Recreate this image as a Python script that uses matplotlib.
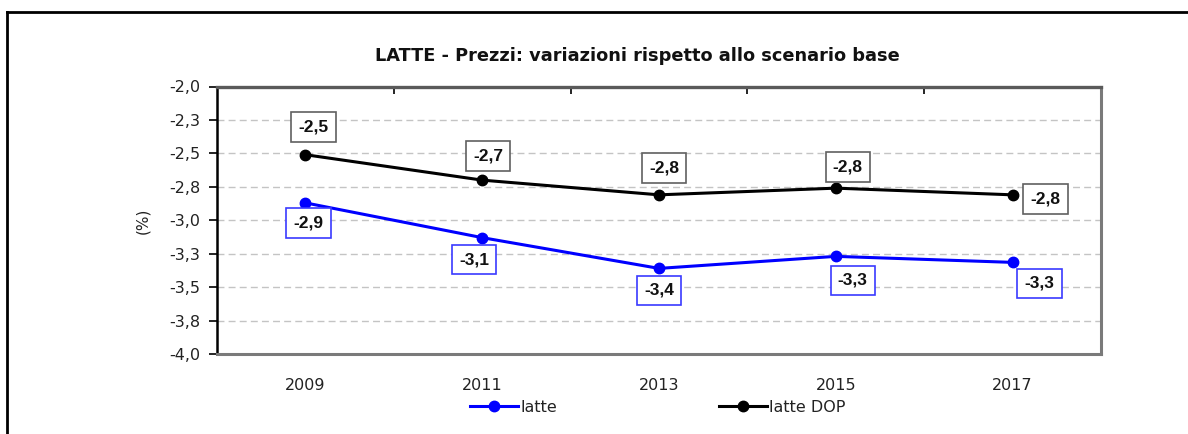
import matplotlib
matplotlib.use("Agg")
import matplotlib.pyplot as plt
import numpy as np
from matplotlib.lines import Line2D
from matplotlib.ticker import FixedLocator, FuncFormatter

plt.rcParams["font.family"] = ["DejaVu Sans"]

# data
years = ["2009", "2011", "2013", "2015", "2017"]
latte = [-2.87, -3.13, -3.36, -3.27, -3.315]
latte_dop = [-2.51, -2.70, -2.81, -2.76, -2.81]
y_ticks = [-4.0, -3.75, -3.5, -3.25, -3.0, -2.75, -2.5, -2.25, -2.0]

# label offsets in pixels (layout only)
dop_offsets = [(8, 28), (6, 24), (5, 27), (12, 21), (33, -4)]
latte_offsets = [(3, -20), (-8, -22), (0, -22), (17, -24), (27, -21)]

BLUE = "#0000ff"
W, H = 1188, 434


def fmt(v):
    r = np.sign(v) * np.floor(abs(v) * 10 + 0.5) / 10
    return f"{r:.1f}".replace(".", ",")


fig = plt.figure(figsize=(W / 100, H / 100), dpi=100)
ax = fig.add_axes([217 / W, 1 - 354 / H, (1101 - 217) / W, (354 - 86.5) / H])

ax.plot(years, latte, color=BLUE, lw=2.2, marker="o", ms=7.5, label="latte", zorder=3)
ax.plot(years, latte_dop, color="black", lw=2.2, marker="o", ms=7.5, label="latte DOP", zorder=3)

label_kw = dict(textcoords="offset pixels", ha="center", va="center", fontsize=12.5,
                fontweight="bold", color="#111111", family="Liberation Sans", zorder=4)
for i, v in enumerate(latte_dop):
    ax.annotate(fmt(v), (i, v), xytext=dop_offsets[i],
                bbox=dict(boxstyle="square,pad=0.42", fc="white", ec="#606060", lw=1.2),
                **label_kw)
for i, v in enumerate(latte):
    ax.annotate(fmt(v), (i, v), xytext=latte_offsets[i],
                bbox=dict(boxstyle="square,pad=0.42", fc="white", ec="#3a3aff", lw=1.2),
                **label_kw)

ax.set_xlim(-0.5, 4.5)
ax.set_ylim(-4.0, -2.0)
ax.set_yticks(y_ticks)
ax.yaxis.set_major_formatter(FuncFormatter(lambda v, p: fmt(v)))
ax.xaxis.set_minor_locator(FixedLocator([0.5, 1.5, 2.5, 3.5, 4.5]))

for y in y_ticks[1:-1]:
    ax.axhline(y, color="#c4c4c4", lw=1, ls=(0, (5, 3)), zorder=1)

ax.tick_params(axis="y", direction="out", length=6, width=1.2, color="black",
               labelsize=11.5, labelcolor="#222222", pad=6)
ax.tick_params(axis="x", which="major", length=0, labelsize=11.5, labelcolor="#222222", pad=17)
ax.tick_params(axis="x", which="minor", top=True, bottom=False, direction="in",
               length=5, width=1.2, color="black")

ax.spines["left"].set_color("black")
ax.spines["left"].set_linewidth(1.8)
ax.spines["top"].set_color("#5a5a5a")
ax.spines["top"].set_linewidth(2.4)
for s in ["bottom", "right"]:
    ax.spines[s].set_color("#7a7a7a")
    ax.spines[s].set_linewidth(2.2)

fig.text(143 / W, 1 - 221 / H, "(%)", rotation=90, ha="center", va="center",
         fontsize=11, color="#222222")
fig.text(637 / W, 1 - 56 / H, "LATTE - Prezzi: variazioni rispetto allo scenario base",
         ha="center", va="center", fontsize=12.8, fontweight="bold", color="#111111")

fig.legend(loc="center", bbox_to_anchor=(658 / W, 1 - 407 / H), ncol=2, frameon=False,
           fontsize=11.5, handlelength=3.0, handletextpad=0.15, columnspacing=10.1,
           labelcolor="#222222")

# outer frame of the original screenshot
fig.add_artist(Line2D([7 / W, 7 / W], [0, 1 - 12 / H], transform=fig.transFigure,
                      color="black", lw=2))
fig.add_artist(Line2D([7 / W, 1], [1 - 12 / H, 1 - 12 / H], transform=fig.transFigure,
                      color="black", lw=2))

fig.savefig("out.png", dpi=100, facecolor="white")
